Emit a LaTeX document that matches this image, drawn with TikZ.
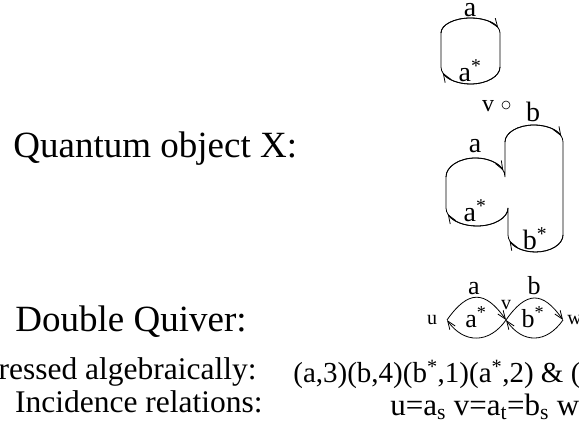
\documentclass[tikz,border=0pt]{standalone}
\usepackage{fontspec}
\setmainfont{Liberation Serif}
\usetikzlibrary{arrows.meta, positioning}

\begin{document}
\begin{tikzpicture}[x=1pt, y=1pt, line width=0.8pt,
  title/.style={font=\fontsize{37}{40}\selectfont, anchor=base west, inner sep=0},
  caption/.style={font=\fontsize{31.5}{34}\selectfont, anchor=base east, inner sep=0},
  formula/.style={font=\fontsize{29}{32}\selectfont, anchor=base west, inner sep=0},
  lbl/.style={font=\fontsize{28}{30}\selectfont, anchor=base, inner sep=0},
  qlbl/.style={font=\fontsize{26}{28}\selectfont, anchor=base, inner sep=0},
  vtx/.style={font=\fontsize{20}{22}\selectfont, anchor=base, inner sep=0},
  arr/.style={-{Straight Barb[length=8.5pt,width=6.5pt]}}]
  \useasboundingbox (0,0) rectangle (579,423);

  % Left column
  \node[title] (qobj) at (13,265) {Quantum object X:};
  \node[title] (dquiv) at (15,91) {Double Quiver:};
  \node[caption] (alg) at (257,43) {ressed algebraically:};
  \node[caption] (inc) at (263,10) {Incidence relations:};

  % Right column text
  \node[formula] (algtxt) at (293,40) {(a,3)(b,4)(b\textsuperscript{*},1)(a\textsuperscript{*},2) \& (};
  \node[formula, font=\fontsize{31}{34}\selectfont] (inctxt) at (390,7) {u=a\textsubscript{s} v=a\textsubscript{t}=b\textsubscript{s} w=};

  % Single loop
  \draw (441,390) arc[start angle=180, end angle=0, x radius=29.5, y radius=15]
    -- (500,356) arc[start angle=0, end angle=-180, x radius=29.5, y radius=17] -- cycle;
  \draw[arr] (441,390) arc[start angle=180, end angle=20, x radius=29.5, y radius=15];
  \draw[arr] (500,356) arc[start angle=0, end angle=-160, x radius=29.5, y radius=17];
  \node[lbl] (la1) at (470,406) {a};
  \node[lbl] (las1) at (470,341) {a\textsuperscript{*}};

  % Quantum object
  \node[font=\fontsize{24}{26}\selectfont, anchor=base, inner sep=0] (vname) at (488,311) {v};
  \node[draw, circle, minimum size=8pt, inner sep=0, line width=0.6pt] (vdot) at (506,318) {};
  \draw (508,215) arc[start angle=0, end angle=-180, x radius=31, y radius=18]
    -- (446,246) arc[start angle=180, end angle=0, x radius=29.5, y radius=19]
    -- (505,281) arc[start angle=180, end angle=0, x radius=29, y radius=17]
    -- (563,188) arc[start angle=0, end angle=-180, x radius=27.5, y radius=17]
    -- (508,215);
  \draw[arr] (446,246) arc[start angle=180, end angle=20, x radius=29.5, y radius=19];
  \draw[arr] (505,281) arc[start angle=180, end angle=20, x radius=29, y radius=17];
  \draw[arr] (563,188) arc[start angle=0, end angle=-160, x radius=27.5, y radius=17];
  \draw[arr] (508,215) arc[start angle=0, end angle=-160, x radius=31, y radius=18];
  \node[lbl] (la2) at (475,270) {a};
  \node[lbl] (las2) at (475,201) {a\textsuperscript{*}};
  \node[lbl] (lb2) at (533,301) {b};
  \node[lbl] (lbs2) at (535,173) {b\textsuperscript{*}};

  % Double quiver
  \coordinate (pu) at (447,103);
  \coordinate (pv) at (506,103);
  \coordinate (pw) at (563,103);
  \node[vtx] (u) at (432,98) {u};
  \node[vtx] (v) at (506,113) {v};
  \node[vtx, anchor=base west] (w) at (567,98) {w};
  \draw[arr] (pu) to[out=55, in=125, looseness=1.6] (pv);
  \draw[arr] (pv) to[out=-125, in=-55, looseness=1.27] (pu);
  \draw[arr] (pv) to[out=55, in=125, looseness=1.6] (pw);
  \draw[arr] (pw) to[out=-125, in=-55, looseness=1.31] (pv);
  \node[qlbl] (qa) at (474,128) {a};
  \node[qlbl] (qas) at (476,95) {a\textsuperscript{*}};
  \node[qlbl] (qb) at (534,128) {b};
  \node[qlbl] (qbs) at (533,95) {b\textsuperscript{*}};
\end{tikzpicture}
\end{document}
